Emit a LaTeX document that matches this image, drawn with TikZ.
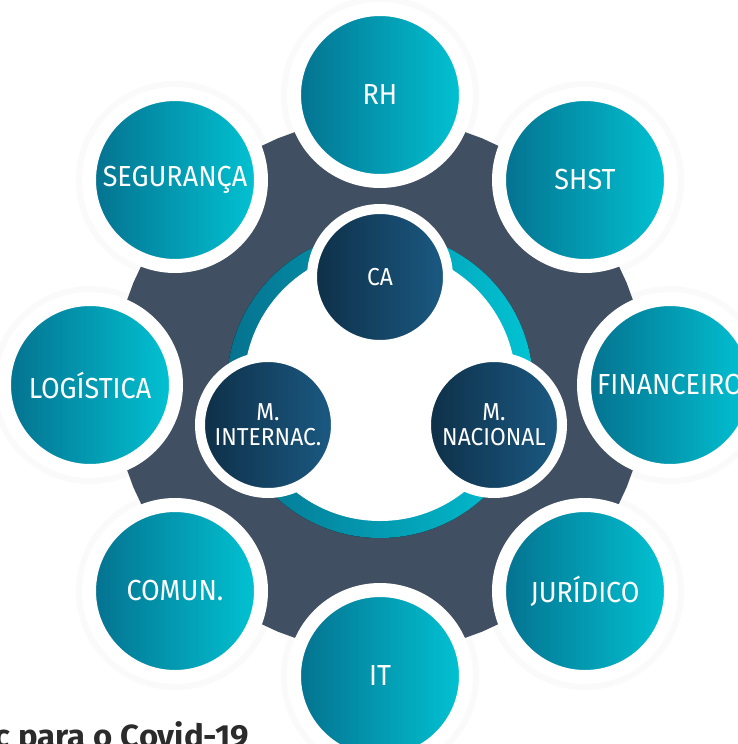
\documentclass[tikz,border=0pt]{standalone}
\usepackage{fontspec}
\setmainfont{Fira Sans}
\newfontfamily\labfont[FakeStretch=0.93]{Fira Sans}
\newfontfamily\capfont[FakeStretch=1.03]{Fira Sans}
\definecolor{gearcol}{HTML}{414F62}
\definecolor{tealL}{HTML}{04708E}
\definecolor{tealR}{HTML}{02C4D4}
\definecolor{navyL}{HTML}{0E2F47}
\definecolor{navyR}{HTML}{1B5A83}
\definecolor{ringL}{HTML}{05728F}
\definecolor{ringR}{HTML}{02C3D3}
\definecolor{txtdark}{HTML}{2B2B2B}
\tikzset{
  outerc/.style={circle, inner sep=0pt, minimum size=172pt, draw=white, line width=14pt,
    left color=tealL, right color=tealR, text=white,
    font=\labfont\fontsize{29}{32}\selectfont},
  innerc/.style={circle, inner sep=0pt, minimum size=136pt, draw=white, line width=10pt,
    left color=navyL, right color=navyR, text=white, align=center,
    font=\labfont\fontsize{24.5}{25}\selectfont},
  halo/.style={fill=black!2},
}
\begin{document}
\begin{tikzpicture}[x=1pt,y=-1pt]
\useasboundingbox (0,0) rectangle (738,744);
\fill[white] (0,0) rectangle (738,744);
\coordinate (C) at (380,385);
\coordinate (pRH) at (380,95);
\coordinate (pSH) at (585,180);
\coordinate (pFI) at (670,385);
\coordinate (pJU) at (585,591);
\coordinate (pIT) at (380,676);
\coordinate (pCO) at (175,591);
\coordinate (pLO) at (90,385);
\coordinate (pSE) at (175,180);
% faint halos
\foreach \p in {pRH,pSH,pFI,pJU,pIT,pCO,pLO,pSE} \fill[halo] (\p) circle (99);
% gear
\fill[gearcol] (C) circle (225);
\foreach \a [evaluate=\a as \b using \a-17, evaluate=\a as \c using \a-11,
  evaluate=\a as \d using \a-5, evaluate=\a as \e using \a+5,
  evaluate=\a as \f using \a+11, evaluate=\a as \g using \a+17]
  in {22.5,67.5,112.5,157.5,202.5,247.5,292.5,337.5}
  \fill[gearcol, shift={(C)}] (\b:210) -- (\c:267) -- (\d:267) -- (\a:267) -- (\e:267) -- (\f:267) -- (\g:210) -- cycle;
% inner ring
\fill[left color=ringL, right color=ringR] (C) circle (153);
\fill[white] (C) circle (136);
% inner circles
\node[innerc] (ca) at (380,277) {CA};
\node[innerc] (mi) at (268,425) {M.\\INTERNAC.};
\node[innerc] (mn) at (494,425) {M.\\NACIONAL};
% outer circles
\node[outerc] (rh) at (pRH) {RH};
\node[outerc] (sh) at (pSH) {SHST};
\node[outerc] (fi) at (pFI) {FINANCEIRO};
\node[outerc] (ju) at (pJU) {JURÍDICO};
\node[outerc] (it) at (pIT) {IT};
\node[outerc] (co) at (pCO) {COMUN.};
\node[outerc] (lo) at (pLO) {LOGÍSTICA};
\node[outerc] (se) at (pSE) {SEGURANÇA};
% caption fragment
\node[anchor=base east, inner sep=0pt, text=txtdark, font=\capfont\bfseries\fontsize{32}{34}\selectfont] (cap) at (249,747) {c para o Covid-19};
\end{tikzpicture}
\end{document}
